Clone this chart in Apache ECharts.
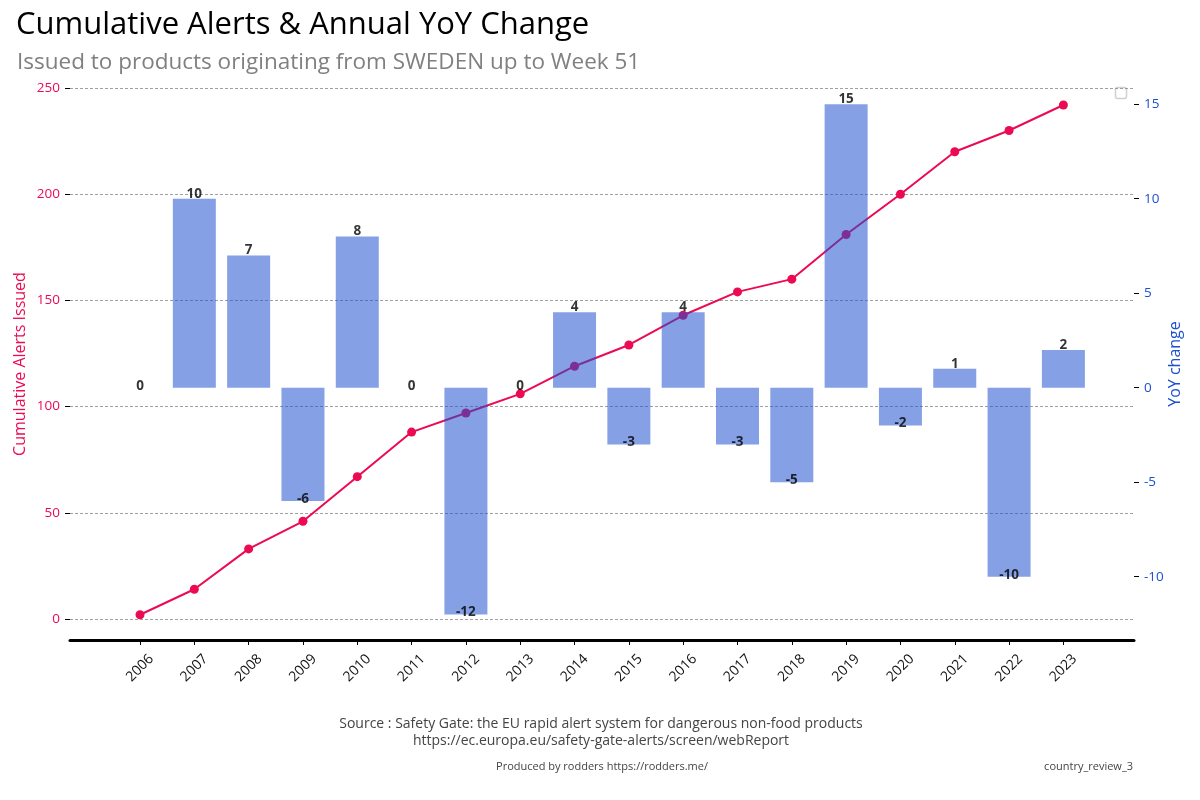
<!DOCTYPE html>
<html><head><meta charset="utf-8">
<script src="https://cdn.jsdelivr.net/npm/echarts@6/dist/echarts.min.js"></script>
<style>html,body{margin:0;padding:0;background:#fff}#c{width:1200px;height:800px}</style>
</head><body><div id="c"></div>
<script>
const years = ['2006','2007','2008','2009','2010','2011','2012','2013','2014','2015','2016','2017','2018','2019','2020','2021','2022','2023'];
const cumulative = [2,14,33,46,67,88,97,106,119,129,143,154,160,181,200,220,230,242];
const yoyChange = [0,10,7,-6,8,0,-12,0,4,-3,4,-3,-5,15,-2,1,-10,2];
const leftTicks = [0,50,100,150,200,250];
const rightTicks = [-10,-5,0,5,10,15];

const titleText = 'Cumulative Alerts & Annual YoY Change';
const subtitleText = 'Issued to products originating from SWEDEN up to Week 51';
const sourceLine1 = 'Source : Safety Gate: the EU rapid alert system for dangerous non-food products';
const sourceLine2 = 'https://ec.europa.eu/safety-gate-alerts/screen/webReport';
const producedBy = 'Produced by rodders https://rodders.me/';
const reportId = 'country_review_3';

const idx = years.map((_, i) => i);
const FONT = 'Open Sans';
const RED = '#ec0a52';
const BLUE = '#1d4fd0';

const chart = echarts.init(document.getElementById('c'));
chart.setOption({
  animation: false,
  backgroundColor: '#fff',
  textStyle: { fontFamily: FONT },
  grid: { left: 70, right: 66, top: 88, bottom: 160, containLabel: false },
  xAxis: {
    type: 'value', min: -1.289, max: 18.30,
    axisLine: { onZero: false, lineStyle: { color: '#000', width: 3 } },
    axisTick: { show: true, customValues: idx, length: 5, lineStyle: { color: '#000', width: 1 } },
    axisLabel: { customValues: idx, formatter: v => years[v] || '', rotate: 45, align: 'center', verticalAlign: 'middle', margin: 28, fontSize: 14, color: '#111', fontFamily: FONT },
    splitLine: { show: false }
  },
  yAxis: [{
    type: 'value', min: -9.9, max: 250, position: 'left',
    name: 'Cumulative Alerts Issued', nameLocation: 'middle', nameGap: 42, nameMoveOverlap: false,
    nameTextStyle: { color: RED, fontSize: 16, fontFamily: FONT },
    axisLine: { show: false, onZero: false },
    axisTick: { show: true, customValues: leftTicks, length: 5, lineStyle: { color: '#000' } },
    axisLabel: { customValues: leftTicks, color: RED, fontSize: 13.5, margin: 10, fontFamily: FONT },
    splitLine: { show: true, lineStyle: { color: '#888', width: 0.8, type: [3, 2] } }
  }, {
    type: 'value', min: -13.35, max: 15.86, position: 'right',
    name: 'YoY change', nameLocation: 'middle', nameGap: 33, nameMoveOverlap: false,
    nameTextStyle: { color: BLUE, fontSize: 16, fontFamily: FONT },
    axisLine: { show: false, onZero: false },
    axisTick: { show: true, customValues: rightTicks, length: 5, lineStyle: { color: '#000' } },
    axisLabel: { customValues: rightTicks, color: BLUE, fontSize: 13.5, margin: 10, fontFamily: FONT },
    splitLine: { show: false }
  }],
  series: [{
    type: 'line', z: 2, yAxisIndex: 0,
    data: cumulative.map((v, i) => [i, v]),
    symbol: 'circle', symbolSize: 9,
    lineStyle: { color: RED, width: 2 },
    itemStyle: { color: RED }
  }, {
    type: 'bar', z: 3, yAxisIndex: 1, barWidth: 43,
    data: yoyChange.map((v, i) => [i, v]),
    itemStyle: { color: 'rgba(30,80,205,0.54)' }
  }, {
    type: 'scatter', z: 4, yAxisIndex: 1, symbolSize: 0, silent: true,
    data: yoyChange.map((v, i) => ({
      value: [i, v],
      label: { offset: [0, v > 0 ? -5 : -2] }
    })),
    label: { show: true, position: 'inside', formatter: p => String(p.value[1]), color: '#000', fontWeight: 'bold', fontSize: 13.5, fontFamily: FONT }
  }],
  graphic: [
    { type: 'text', left: 16, top: 10, style: { text: titleText, fontSize: 31, fontFamily: FONT, fill: '#000' } },
    { type: 'text', left: 17, top: 51, style: { text: subtitleText, fontSize: 22.5, fontFamily: FONT, fill: '#808080' } },
    { type: 'text', x: 601, y: 724, style: { text: sourceLine1, fontSize: 14, fontFamily: FONT, fill: '#444', textAlign: 'center', textVerticalAlign: 'middle' } },
    { type: 'text', x: 601, y: 741, style: { text: sourceLine2, fontSize: 14, fontFamily: FONT, fill: '#444', textAlign: 'center', textVerticalAlign: 'middle' } },
    { type: 'text', x: 602, y: 767, style: { text: producedBy, fontSize: 11, fontFamily: FONT, fill: '#444', textAlign: 'center', textVerticalAlign: 'middle' } },
    { type: 'text', x: 1133, y: 767, style: { text: reportId, fontSize: 11, fontFamily: FONT, fill: '#444', textAlign: 'right', textVerticalAlign: 'middle' } },
    { type: 'rect', shape: { x: 1115.5, y: 87.5, width: 11, height: 11, r: 2 }, style: { fill: '#fff', stroke: '#d0d0d0', lineWidth: 1.5 } }
  ]
});
</script>
</body></html>
